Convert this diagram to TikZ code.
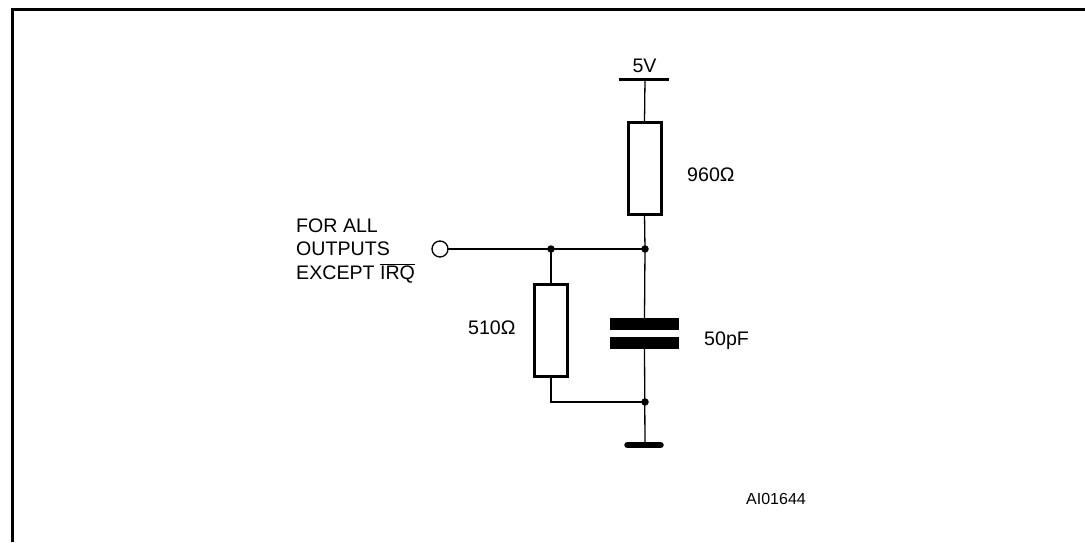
\documentclass[tikz,border=0pt]{standalone}
\usepackage{fontspec}
\setmainfont{Liberation Sans}
\begin{document}
\begin{tikzpicture}[x=1pt,y=-1pt,
  wire/.style={line width=1.3pt},
  frameline/.style={line width=2.3pt},
  res/.style={draw,line width=3pt,minimum width=33pt,minimum height=92pt,inner sep=0pt,outer sep=0pt},
  plate/.style={fill=black,minimum width=69pt,minimum height=12pt,inner sep=0pt,outer sep=0pt},
  dot/.style={circle,fill=black,minimum size=7.5pt,inner sep=0pt,outer sep=0pt},
  term/.style={circle,draw,line width=1.3pt,fill=white,minimum size=16pt,inner sep=0pt,outer sep=0pt},
  lbl/.style={font=\fontsize{19.6}{23}\selectfont,inner sep=0pt},
  smalllbl/.style={font=\fontsize{16}{19}\selectfont,inner sep=0pt}]
\useasboundingbox (0,0) rectangle (1085,542);
% frame
\draw[frameline] (12.5,542) -- (12.5,9.5) -- (1085,9.5);
% components
\coordinate (vcc) at (645,79);
\node[res] (r960) at (644.5,168) {};
\node[dot] (j1) at (645,249) {};
\node[dot] (j2) at (551,249) {};
\node[term] (in) at (440,249) {};
\node[res] (r510) at (551,330) {};
\node[plate] (c1) at (644.5,324) {};
\node[plate] (c2) at (644.5,343) {};
\node[dot] (j3) at (645,402) {};
\coordinate (lowl) at (551,402);
\coordinate (gnd) at (645,445);
% supply and ground bars
\draw[line width=3pt] (619,79) -- (vcc) -- (669,79);
\draw[line width=6.5pt,line cap=round] (627.5,445) -- (gnd) -- (660.5,445);
% wires
\draw[wire] (vcc) -- (r960.north);
\draw[wire] (r960.south) -- (j1.center);
\draw[wire] (in.east) -- (j1.center);
\draw[wire] (j2.center) -- (r510.north);
\draw[wire] (j1.center) -- (c1.north);
\draw[wire] (c2.south) -- (gnd);
\draw[wire] (r510.south) -- (lowl) -- (j3.center);
% labels
\node[lbl,anchor=base] (t5v) at (644.5,72) {5V};
\node[lbl,anchor=base west] (t960) at (687,181.7) {960Ω};
\node[lbl,anchor=base west] (t510) at (468,334.7) {510Ω};
\node[lbl,anchor=base west] (t50) at (704,345) {50pF};
\node[lbl,anchor=base west] (ta) at (296,232) {FOR ALL};
\node[lbl,anchor=base west] (tb) at (296,255.5) {OUTPUTS};
\node[lbl,anchor=base west] (tc) at (296,279) {EXCEPT $\overline{\mbox{IRQ}}$};
\node[smalllbl,anchor=base west] (tid) at (746,504.3) {AI01644};
\end{tikzpicture}
\end{document}
